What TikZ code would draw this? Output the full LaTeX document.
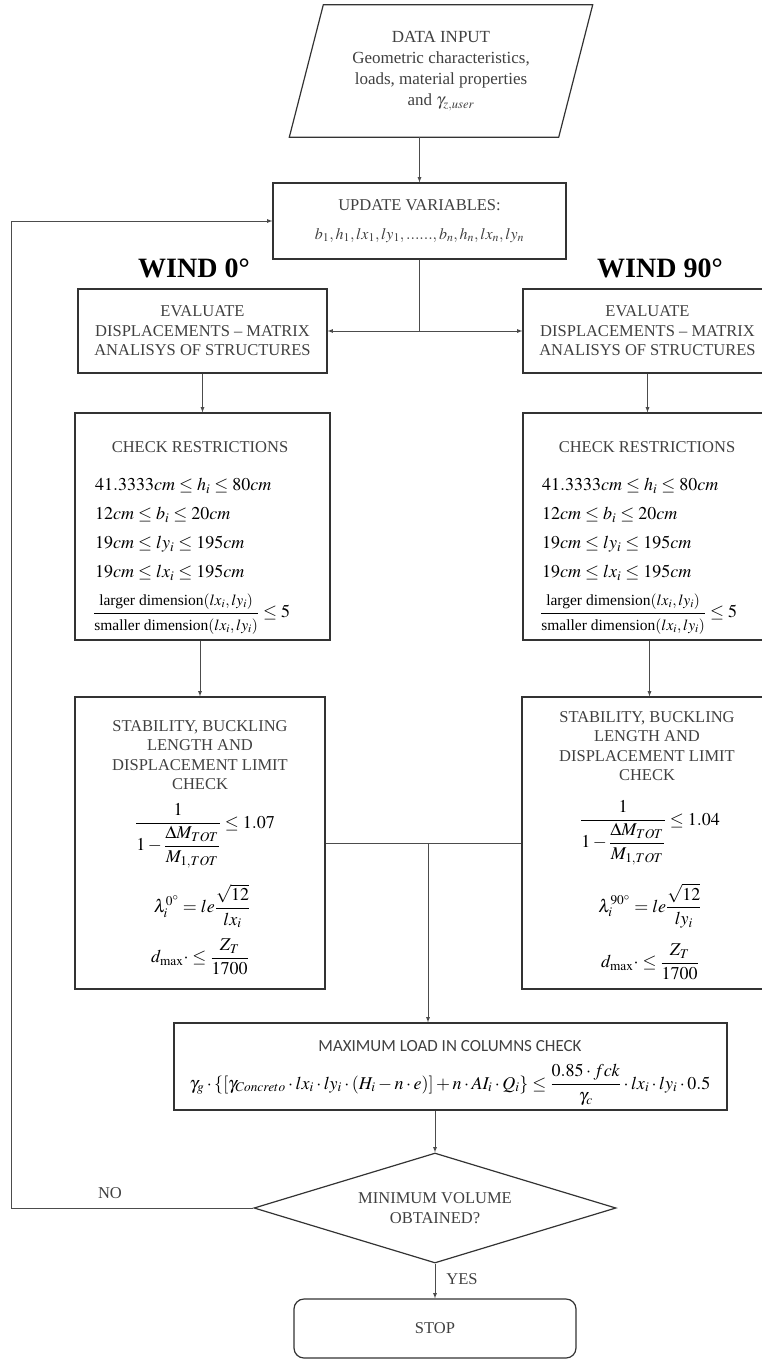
\documentclass[tikz,border=0pt]{standalone}
\usepackage{amsmath}
\usepackage{mathptmx}
\usepackage{fontspec}
\setmainfont{Liberation Serif}
\newfontfamily\calib{Carlito}
\usetikzlibrary{shapes.geometric,calc}

\begin{document}
\begin{tikzpicture}[x=1pt,y=-1pt,
  box/.style={draw=black!80,line width=1.2pt,inner sep=0pt},
  lbl/.style={text=black!75,font=\fontsize{16.5}{19.5}\selectfont,align=center,inner sep=0pt},
  mth/.style={font=\fontsize{18}{22}\selectfont,inner sep=0pt},
  line/.style={draw=black!70,line width=0.8pt},
  arr/.style={line,-latex}]
\useasboundingbox (0,0) rectangle (761,1361);

\node[lbl,font=\fontsize{17}{21}\selectfont,minimum width=269pt,minimum height=132pt] (data) at (441,71)
  {DATA INPUT\\Geometric characteristics,\\loads, material properties\\and $\gamma_{z,user}$};
\draw[black!80,line width=1.2pt] ($(data.north west)+(17,0)$) -- ($(data.north east)+(17,0)$)
  -- ($(data.south east)+(-17,0)$) -- ($(data.south west)+(-17,0)$) -- cycle;

\node[box,lbl,minimum width=293pt,minimum height=76pt] (upd) at (419.5,221)
  {UPDATE VARIABLES:\\[9pt]{\fontsize{16}{20}\selectfont$b_1,h_1,lx_1,ly_1,......,b_n,h_n,lx_n,ly_n$}};

\node[font=\bfseries\fontsize{28}{30}\selectfont] (w0) at (194,268) {WIND 0°};
\node[font=\bfseries\fontsize{28}{30}\selectfont] (w90) at (660,268) {WIND 90°};

\node[box,lbl,minimum width=249pt,minimum height=84pt] (ev0) at (202.5,331)
  {EVALUATE\\DISPLACEMENTS -- MATRIX\\ANALISYS OF STRUCTURES};
\node[box,lbl,minimum width=249pt,minimum height=84pt] (ev90) at (647.5,331)
  {EVALUATE\\DISPLACEMENTS -- MATRIX\\ANALISYS OF STRUCTURES};

\node[box,minimum width=255pt,minimum height=227pt] (chk0) at (202.5,526.5) {};
\node[lbl] (chk0t) at (200,447) {CHECK RESTRICTIONS};
\node[mth,anchor=west] (chk0a) at (95,486) {$41.3333cm\le h_i\le 80cm$};
\node[mth,anchor=west] (chk0b) at (95,515) {$12cm\le b_i\le 20cm$};
\node[mth,anchor=west] (chk0c) at (95,544) {$19cm\le ly_i\le 195cm$};
\node[mth,anchor=west] (chk0d) at (95,573) {$19cm\le lx_i\le 195cm$};
\node[mth,anchor=west] (chk0e) at (93,614)
  {$\dfrac{\mbox{\fontsize{15.5}{18}\selectfont larger dimension$(lx_i,ly_i)$}}{\mbox{\fontsize{15.5}{18}\selectfont smaller dimension$(lx_i,ly_i)$}}\le 5$};

\node[box,minimum width=255pt,minimum height=227pt] (chk90) at (650.5,526.5) {};
\node[lbl] (chk90t) at (647,447) {CHECK RESTRICTIONS};
\node[mth,anchor=west] (chk90a) at (542,486) {$41.3333cm\le h_i\le 80cm$};
\node[mth,anchor=west] (chk90b) at (542,515) {$12cm\le b_i\le 20cm$};
\node[mth,anchor=west] (chk90c) at (542,544) {$19cm\le ly_i\le 195cm$};
\node[mth,anchor=west] (chk90d) at (542,573) {$19cm\le lx_i\le 195cm$};
\node[mth,anchor=west] (chk90e) at (540,614)
  {$\dfrac{\mbox{\fontsize{15.5}{18}\selectfont larger dimension$(lx_i,ly_i)$}}{\mbox{\fontsize{15.5}{18}\selectfont smaller dimension$(lx_i,ly_i)$}}\le 5$};

\node[box,minimum width=250pt,minimum height=292pt] (stab0) at (200,843) {};
\node[lbl] (stab0t) at (200,755) {STABILITY, BUCKLING\\LENGTH AND\\DISPLACEMENT LIMIT\\CHECK};
\node[mth] (stab0a) at (205,836) {$\displaystyle\frac{1}{1-\dfrac{\Delta M_{TOT}}{M_{1,TOT}}}\le 1.07$};
\node[mth] (stab0b) at (202,906) {$\displaystyle\lambda_i^{0^\circ}=le\frac{\sqrt{12}}{lx_i}$};
\node[mth] (stab0c) at (200,957) {$\displaystyle d_{\max}\cdot\le\frac{Z_T}{1700}$};

\node[box,minimum width=255pt,minimum height=292pt] (stab90) at (649.5,843) {};
\node[lbl] (stab90t) at (647,746) {STABILITY, BUCKLING\\LENGTH AND\\DISPLACEMENT LIMIT\\CHECK};
\node[mth] (stab90a) at (650,833) {$\displaystyle\frac{1}{1-\dfrac{\Delta M_{TOT}}{M_{1,TOT}}}\le 1.04$};
\node[mth] (stab90b) at (650,906) {$\displaystyle\lambda_i^{90^\circ}=le\frac{\sqrt{12}}{ly_i}$};
\node[mth] (stab90c) at (650,962) {$\displaystyle d_{\max}\cdot\le\frac{Z_T}{1700}$};

\node[box,minimum width=553pt,minimum height=87pt] (maxl) at (450.5,1066.5) {};
\node[lbl,font=\calib\fontsize{17}{20}\selectfont] (maxlt) at (450,1046) {MAXIMUM LOAD IN COLUMNS CHECK};
\node[mth] (maxlf) at (450,1085)
  {$\gamma_g\cdot\{[\gamma_{Concreto}\cdot lx_i\cdot ly_i\cdot(H_i-n\cdot e)]+n\cdot AI_i\cdot Q_i\}\le\dfrac{0.85\cdot fck}{\gamma_c}\cdot lx_i\cdot ly_i\cdot 0.5$};

\node[box,lbl,diamond,aspect=3.3,minimum width=362pt,minimum height=110pt] (dec) at (435,1208)
  {MINIMUM VOLUME\\OBTAINED?};
\node[box,lbl,rounded corners=10pt,minimum width=282pt,minimum height=59pt] (stop) at (435,1328.5) {STOP};

\node[lbl] (no) at (110,1193) {NO};
\node[lbl] (yes) at (462,1279) {YES};

\coordinate (back) at (11,1208);
\coordinate (jn) at (428,843);

\draw[arr] (upd.north |- data.south) -- (upd.north);
\draw[arr] (upd.south) |- (ev0.east);
\draw[arr] (upd.south) |- (ev90.west);
\draw[arr] (ev0.south) -- (ev0.south |- chk0.north);
\draw[arr] (ev90.south) -- (ev90.south |- chk90.north);
\draw[arr] (chk0.south -| stab0.north) -- (stab0.north);
\draw[arr] (chk90.south -| stab90.north) -- (stab90.north);
\draw[line] (stab0.east) -- (stab90.west);
\draw[arr] (jn) -- (jn |- maxl.north);
\draw[arr] (dec.north |- maxl.south) -- (dec.north);
\draw[arr] (dec.south) -- (stop.north);
\draw[arr] (dec.west) -- (back) |- (upd.west);
\end{tikzpicture}
\end{document}
